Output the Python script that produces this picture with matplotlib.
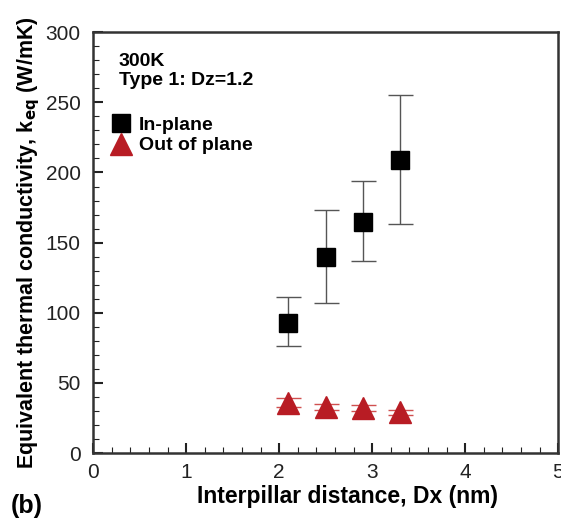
import matplotlib
matplotlib.use("Agg")
import matplotlib.pyplot as plt
from matplotlib.ticker import MultipleLocator
from matplotlib.lines import Line2D

plt.rcParams['font.family'] = ['Liberation Sans', 'DejaVu Sans']

dx = [2.1, 2.5, 2.9, 3.3]
in_plane = [93, 140, 165, 209]
in_upper = [111, 173, 194, 255]
in_lower = [76, 107, 137, 163]
out_plane = [36, 33, 32, 29]
out_upper = [39, 35, 34, 31]
out_lower = [33, 31, 30, 27]

fig = plt.figure(figsize=(5.61, 5.19), dpi=100)
ax = fig.add_axes([0.166, 0.127, 0.829, 0.811])

yerr_in = [[v - l for v, l in zip(in_plane, in_lower)], [u - v for v, u in zip(in_plane, in_upper)]]
yerr_out = [[v - l for v, l in zip(out_plane, out_lower)], [u - v for v, u in zip(out_plane, out_upper)]]

red = '#b81c24'
ax.errorbar(dx, in_plane, yerr=yerr_in, fmt='s', color='black', ms=13,
            ecolor='#555555', elinewidth=1.0, capsize=9, capthick=1.0)
ax.errorbar(dx, out_plane, yerr=yerr_out, fmt='^', color=red, ms=16,
            ecolor='#d05050', elinewidth=1.0, capsize=9, capthick=1.0)

ax.set_xlim(0, 5)
ax.set_ylim(0, 300)
ax.xaxis.set_major_locator(MultipleLocator(1))
ax.xaxis.set_minor_locator(MultipleLocator(0.2))
ax.yaxis.set_major_locator(MultipleLocator(50))
ax.yaxis.set_minor_locator(MultipleLocator(10))
ax.tick_params(which='both', direction='in', top=False, right=False, labelsize=15, colors='#222222')
ax.tick_params(which='major', length=7, width=1.5)
ax.tick_params(axis='y', which='major', pad=9)
ax.tick_params(axis='x', which='major', pad=7)
ax.tick_params(which='minor', length=4, width=0.8)
for s in ax.spines.values():
    s.set_linewidth(1.8)
    s.set_color('#333333')

ax.set_xlabel('Interpillar distance, Dx (nm)', fontsize=16.5, fontweight='bold')
ax.xaxis.set_label_coords(0.548, -0.075)
ax.set_ylabel(r'Equivalent thermal conductivity, k$_{\mathbf{eq}}$ (W/mK)', fontsize=15.5,
              fontweight='bold')
ax.yaxis.set_label_coords(-0.11, 0.5)

ax.text(0.055, 0.95, '300K\nType 1: Dz=1.2', transform=ax.transAxes, fontsize=14,
        fontweight='bold', va='top', ha='left', linespacing=1.15)

handles = [Line2D([], [], ls='none', marker='s', color='black', ms=13),
           Line2D([], [], ls='none', marker='^', color=red, ms=16)]
ax.legend(handles, ['In-plane', 'Out of plane'], loc='upper left', bbox_to_anchor=(0.035, 0.80),
          frameon=False, prop={'weight': 'bold', 'size': 14}, handletextpad=0.3,
          borderaxespad=0, borderpad=0, labelspacing=0.15, handlelength=1.2)

fig.text(0.02, 0.012, '(b)', fontsize=18, fontweight='bold')

fig.savefig('out.png', dpi=100)
